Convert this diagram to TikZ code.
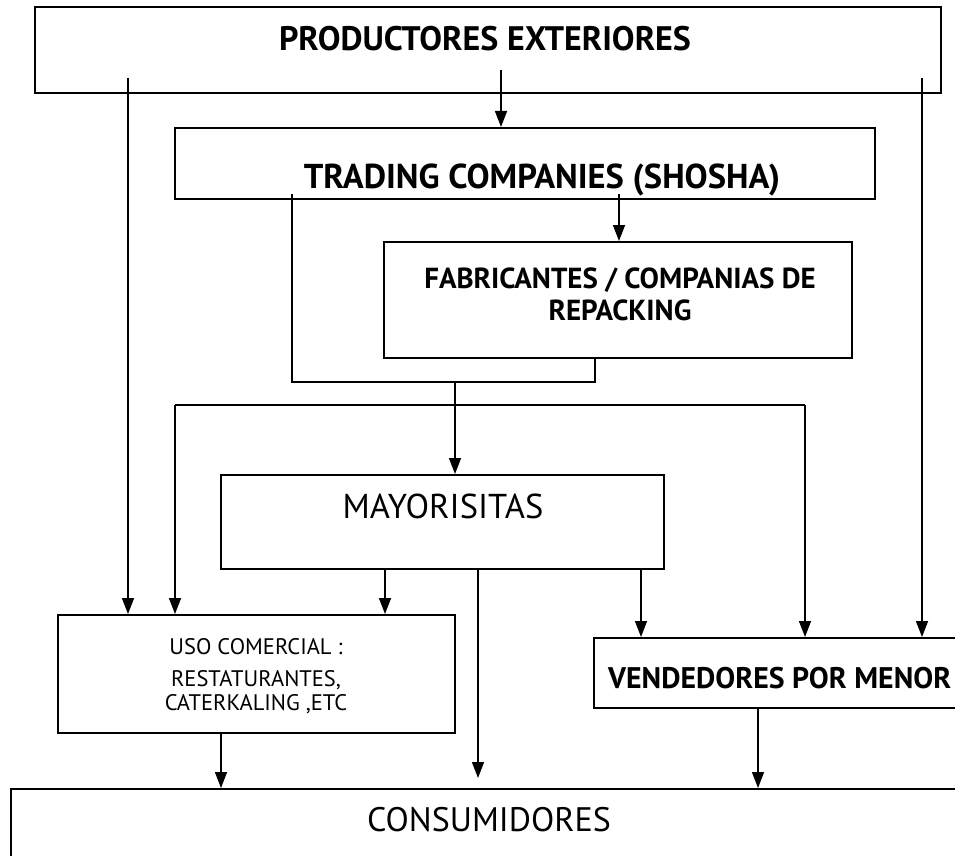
\documentclass[tikz,border=0pt]{standalone}
\usepackage{fontspec}
\setmainfont{PT Sans}
\usetikzlibrary{arrows.meta}
\tikzset{
  box/.style={draw=black, line width=2pt, fill=none, inner sep=0pt},
  conn/.style={draw=black, line width=1.4pt},
  arr/.style={conn, -{Triangle[length=16pt,width=12pt]}},
  lbl/.style={inner sep=0pt, align=center, text=black},
}
\newcommand{\fsz}[1]{\fontsize{#1}{#1}\selectfont}
\begin{document}
\begin{tikzpicture}[x=1pt,y=-1pt]
\clip (0,0) rectangle (955,856);
\fill[white] (0,0) rectangle (955,856);
% boxes
\node[box, minimum width=906pt, minimum height=86pt] (p) at (488,50) {};
\node[box, minimum width=700pt, minimum height=71pt] (t) at (525,163.5) {};
\node[box, minimum width=468pt, minimum height=116pt] (f) at (618,300) {};
\node[box, minimum width=443pt, minimum height=94pt] (m) at (442.5,522) {};
\node[box, minimum width=397pt, minimum height=118pt] (u) at (256.5,674) {};
\node[box, minimum width=380pt, minimum height=70pt] (v) at (784,673) {};
\node[box, minimum width=960pt, minimum height=90pt] (c) at (491,834) {};
% texts
\node[lbl, font=\bfseries\fsz{34}] (pt) at (485,39) {PRODUCTORES EXTERIORES};
\node[lbl, font=\bfseries\fsz{34.5}] (tt) at (542,180) {TRADING COMPANIES (SHOSHA)};
\node[lbl, font=\bfseries\fsz{29}] (ft1) at (620,280) {FABRICANTES / COMPANIAS DE};
\node[lbl, font=\bfseries\fsz{29}] (ft2) at (620,310) {REPACKING};
\node[lbl, font=\fsz{34.5}] (mt) at (443,506) {MAYORISITAS};
\node[lbl, font=\fsz{22.5}] (ut1) at (256,647) {USO COMERCIAL :};
\node[lbl, font=\fsz{22.5}] (ut2) at (256,680) {RESTATURANTES,};
\node[lbl, font=\fsz{22.5}] (ut3) at (256,704) {CATERKALING ,ETC};
\node[lbl, font=\bfseries\fsz{29.8}, anchor=west] (vt) at (608,678) {VENDEDORES POR MENOR};
\node[lbl, font=\fsz{34}] (ct) at (489,820) {CONSUMIDORES};
% connector start points (inside boxes)
\coordinate (pl) at (128,78);
\coordinate (pc) at (501,70);
\coordinate (pr) at (922,78);
\coordinate (tl) at (292,194);
\coordinate (tr) at (619,194);
\coordinate (bj) at (455,382);
\coordinate (bl) at (175,405);
\coordinate (br) at (805,405);
\coordinate (mc) at (478,778);
% connectors
\draw[arr] (pl) -- (pl |- u.north);
\draw[arr] (pc) -- (pc |- t.north);
\draw[arr] (pr) -- (pr |- v.north);
\draw[conn] (tl) |- (bj) -| ([xshift=-23pt]f.south);
\draw[arr] (tr) -- (tr |- f.north);
\draw[arr] (bj) -- (bj |- m.north);
\draw[conn] (bl) -- (br);
\draw[arr] (bl) -- (bl |- u.north);
\draw[arr] (br) -- (br |- v.north);
\draw[arr] (m.south -| 385,0) -- (u.north -| 385,0);
\draw[arr] (m.south -| mc) -- (mc);
\draw[arr] (m.south -| 641,0) -- (v.north -| 641,0);
\draw[arr] (u.south -| 221,0) -- (c.north -| 221,0);
\draw[arr] (v.south -| 758,0) -- (c.north -| 758,0);
\end{tikzpicture}
\end{document}
